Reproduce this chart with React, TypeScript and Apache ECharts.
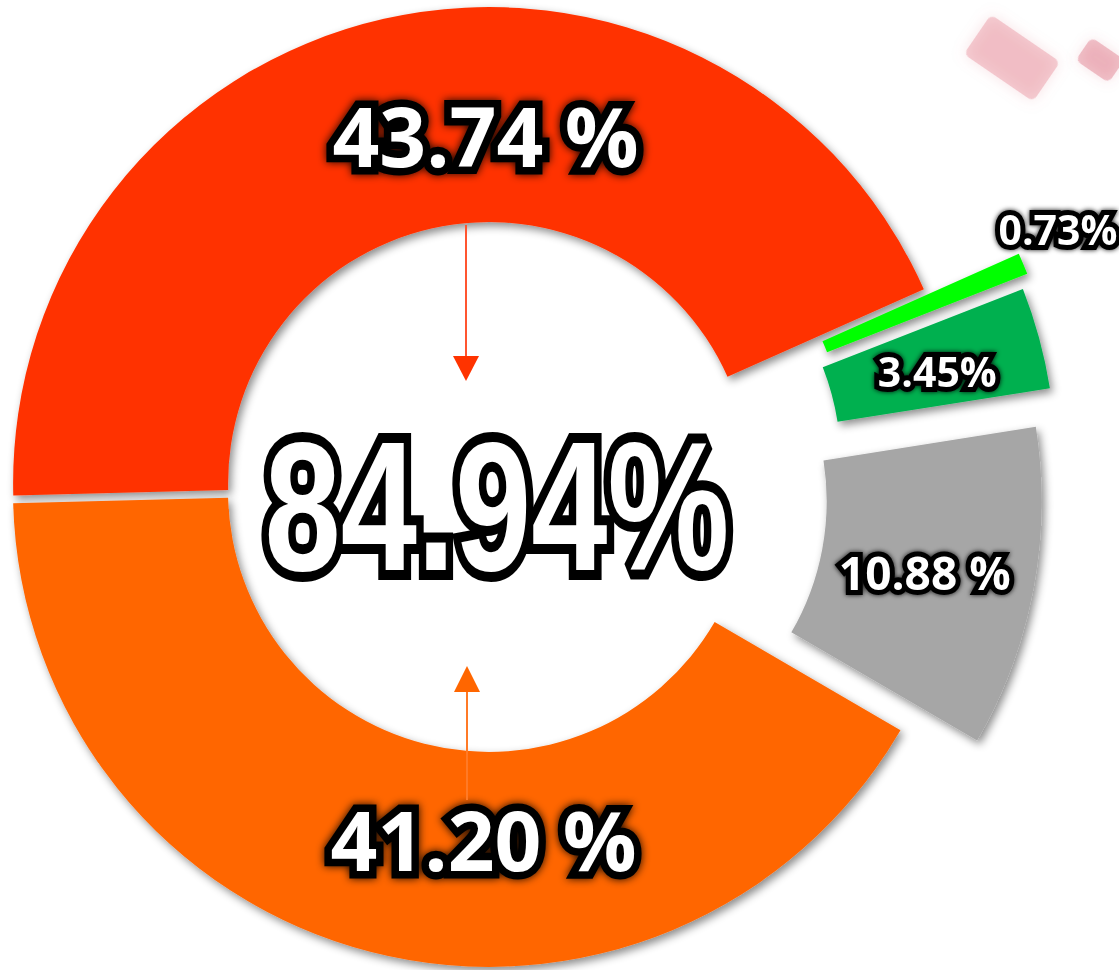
import React, { useEffect, useRef } from "react";
import * as echarts from "echarts";

// ---- data ----
const sliceNames = ["Segment A", "Segment B", "Segment C", "Segment D", "Segment E"];
const sliceValues = [43.74, 0.73, 3.45, 10.88, 41.2];
const sliceLabels = ["43.74 %", "0.73%", "3.45%", "10.88 %", "41.20 %"];
const centerLabels = ["84.94%"];

// ---- styling ----
const COLORS = ["#FF3300", "#00FF00", "#00B050", "#A6A6A6", "#FF6600"];
const EXPLODE = [4, 102, 93, 77, 4];
const LABEL_POLAR: [number, number][] = [
  [90.6, 348],
  [24.8, 522],
  [14.3, 369],
  [-11.2, 366],
  [-90.9, 348],
];
const LABEL_SIZE = [82, 41, 41, 46, 82];
const CX = 490;
const CY = 487;
const R_IN = 261;
const R_OUT = 476;
const START = 181.5;
const LABEL_FONT = "'Open Sans', 'Noto Sans', sans-serif";
const CENTER_FONT = "'Liberation Sans', Arial, sans-serif";

export default function App() {
  const ref = useRef<HTMLDivElement>(null);
  useEffect(() => {
    document.body.style.margin = "0";
    if (!ref.current) return;
    const chart = echarts.init(ref.current, undefined, { renderer: "svg" });
    const total = sliceValues.reduce((a, b) => a + b, 0);
    let cum = 0;
    const series: any[] = sliceValues.map((v, i) => {
      const a0 = START - (cum / total) * 360;
      const a1 = a0 - (v / total) * 360;
      cum += v;
      const mid = ((a0 + a1) / 2) * (Math.PI / 180);
      const cx = CX + EXPLODE[i] * Math.cos(mid);
      const cy = CY - EXPLODE[i] * Math.sin(mid);
      const [la, lr] = LABEL_POLAR[i];
      const lx = cx + lr * Math.cos((la * Math.PI) / 180);
      const ly = cy - lr * Math.sin((la * Math.PI) / 180);
      const big = LABEL_SIZE[i] > 60;
      return {
        type: "pie",
        silent: true,
        center: [cx, cy],
        radius: [R_IN, R_OUT],
        startAngle: START,
        clockwise: true,
        avoidLabelOverlap: false,
        emphasis: { disabled: true },
        labelLine: { show: false },
        label: {
          position: "inside",
          rotate: 0,
          formatter: (p: any) => sliceLabels[p.dataIndex],
          color: "#ffffff",
          fontFamily: LABEL_FONT,
          fontWeight: "bold",
          fontSize: LABEL_SIZE[i],
          textBorderColor: "#000000",
          textBorderWidth: big ? 15 : 10,
          textShadowColor: "rgba(0,0,0,0.9)",
          textShadowBlur: big ? 8 : 5,
        },
        labelLayout: (params: any) => {
          if (params.dataIndex !== i) return {};
          return { x: lx, y: ly, align: "center", verticalAlign: "middle" };
        },
        data: sliceValues.map((val, j) => ({
          name: sliceNames[j],
          value: val,
          itemStyle:
            j === i
              ? {
                  color: COLORS[j],
                  shadowBlur: 8,
                  shadowColor: "rgba(0,0,0,0.45)",
                  shadowOffsetX: 3,
                  shadowOffsetY: 4,
                }
              : { color: "rgba(0,0,0,0)" },
          label: { show: j === i },
        })),
      };
    });

    const centerText = (front: boolean) => ({
      type: "text",
      x: 497,
      y: 506,
      scaleX: 0.745,
      z: front ? 101 : 100,
      style: front
        ? {
            text: centerLabels[0],
            fill: "#ffffff",
            fontFamily: CENTER_FONT,
            fontWeight: "bold",
            fontSize: 184,
            align: "center",
            verticalAlign: "middle",
          }
        : {
            text: centerLabels[0],
            fill: "#000000",
            fontFamily: CENTER_FONT,
            fontWeight: "bold",
            fontSize: 184,
            align: "center",
            verticalAlign: "middle",
            stroke: "#000000",
            lineWidth: 20,
            lineJoin: "round",
            shadowBlur: 12,
            shadowColor: "rgba(0,0,0,0.9)",
          },
    });

    const option: any = {
      animation: false,
      backgroundColor: "#ffffff",
      series,
      graphic: [
        // faint stamp in the corner
        {
          type: "rect",
          x: 1012,
          y: 58,
          rotation: -0.6,
          shape: { x: -42, y: -24, width: 84, height: 48, r: 6 },
          style: { fill: "rgba(225,120,135,0.35)", shadowBlur: 14, shadowColor: "rgba(225,120,135,0.6)" },
          z: 1,
        },
        {
          type: "rect",
          x: 1100,
          y: 60,
          rotation: -0.6,
          shape: { x: -20, y: -14, width: 40, height: 28, r: 6 },
          style: { fill: "rgba(215,90,110,0.35)", shadowBlur: 12, shadowColor: "rgba(215,90,110,0.5)" },
          z: 1,
        },
        // top arrow
        {
          type: "line",
          shape: { x1: 466, y1: 225, x2: 466, y2: 358 },
          style: { stroke: "#FF5530", lineWidth: 2 },
          z: 50,
        },
        {
          type: "polygon",
          shape: { points: [[453, 356], [479, 356], [466, 381]] },
          style: { fill: "#FF3300" },
          z: 50,
        },
        // bottom arrow
        {
          type: "line",
          shape: { x1: 467, y1: 800, x2: 467, y2: 690 },
          style: { stroke: "#FF7A26", lineWidth: 2 },
          z: 50,
        },
        {
          type: "polygon",
          shape: { points: [[454, 692], [480, 692], [467, 666]] },
          style: { fill: "#FF6600" },
          z: 50,
        },
        // center text (outline layer, then white layer)
        centerText(false),
        centerText(true),
      ],
    };
    chart.setOption(option);
    return () => chart.dispose();
  }, []);
  return <div ref={ref} style={{ width: 1119, height: 970 }} />;
}
